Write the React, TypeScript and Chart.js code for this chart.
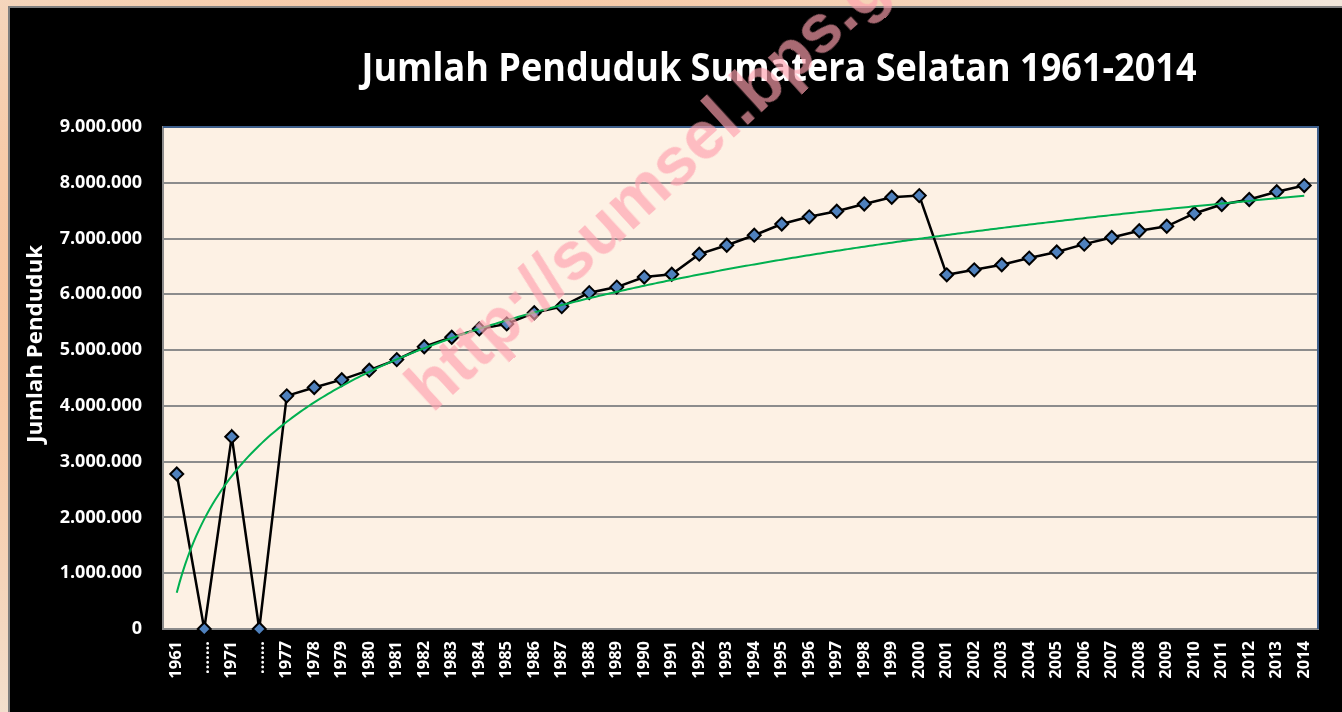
import React, { useEffect, useRef } from "react";
import { Chart, registerables } from "chart.js";

Chart.register(...registerables);

// ---- data ----
const categories: string[] = [
  "1961", "…….", "1971", "…….",
  "1977", "1978", "1979", "1980", "1981", "1982", "1983", "1984", "1985", "1986",
  "1987", "1988", "1989", "1990", "1991", "1992", "1993", "1994", "1995", "1996",
  "1997", "1998", "1999", "2000", "2001", "2002", "2003", "2004", "2005", "2006",
  "2007", "2008", "2009", "2010", "2011", "2012", "2013", "2014",
];

const population: number[] = [
  2780000, 0, 3448000, 0,
  4180000, 4330000, 4470000, 4640000, 4830000, 5060000, 5230000, 5380000, 5470000, 5670000,
  5780000, 6030000, 6130000, 6310000, 6360000, 6720000, 6880000, 7060000, 7260000, 7390000,
  7490000, 7620000, 7740000, 7770000, 6350000, 6440000, 6530000, 6650000, 6760000, 6900000,
  7020000, 7140000, 7220000, 7450000, 7610000, 7700000, 7840000, 7950000,
];

const yTickValues: number[] = [0, 1000000, 2000000, 3000000, 4000000, 5000000, 6000000, 7000000, 8000000, 9000000];

const titleText = "Jumlah Penduduk Sumatera Selatan 1961-2014";
const yTitleText = "Jumlah Penduduk";
const watermarkText = "http://sumsel.bps.go.id";

// Excel-style logarithmic trendline: least squares of y on ln(x)
function logTrend(values: number[]) {
  const n = values.length;
  const lx = values.map((_, i) => Math.log(i + 1));
  const mx = lx.reduce((s, v) => s + v, 0) / n;
  const my = values.reduce((s, v) => s + v, 0) / n;
  let sxy = 0, sxx = 0;
  for (let i = 0; i < n; i++) {
    sxy += (lx[i] - mx) * (values[i] - my);
    sxx += (lx[i] - mx) * (lx[i] - mx);
  }
  const a = sxy / sxx;
  const b = my - a * mx;
  return { a, b };
}

function fmtDots(v: number) {
  return String(Math.round(v)).replace(/\B(?=(\d{3})+(?!\d))/g, ".");
}

function drawFitted(ctx: CanvasRenderingContext2D, text: string, font: string, targetW: number) {
  ctx.font = font;
  const w = ctx.measureText(text).width;
  const s = targetW / w;
  ctx.scale(s, 1);
  ctx.textAlign = "center";
  ctx.textBaseline = "alphabetic";
  ctx.fillText(text, 0, 0);
}

export default function App() {
  const canvasRef = useRef<HTMLCanvasElement | null>(null);

  useEffect(() => {
    document.body.style.margin = "0";
    const canvas = canvasRef.current;
    if (!canvas) return;

    const { a, b } = logTrend(population);
    const trendPts: { x: number; y: number }[] = [];
    for (let t = 1; t <= categories.length + 1e-9; t += 0.1) {
      trendPts.push({ x: t, y: a * Math.log(t) + b });
    }

    const decor = {
      id: "decor",
      beforeDraw(chart: any) {
        const { ctx, chartArea } = chart;
        ctx.save();
        ctx.fillStyle = "#FDF1E4";
        ctx.fillRect(chartArea.left, chartArea.top, chartArea.right - chartArea.left, chartArea.bottom - chartArea.top);
        ctx.restore();
      },
      beforeDatasetsDraw(chart: any) {
        const { ctx, chartArea } = chart;
        ctx.save();
        ctx.strokeStyle = "#3E5F8C";
        ctx.lineWidth = 2;
        ctx.beginPath();
        ctx.moveTo(chartArea.left, chartArea.top);
        ctx.lineTo(chartArea.right, chartArea.top);
        ctx.lineTo(chartArea.right, chartArea.bottom);
        ctx.stroke();
        ctx.restore();
      },
      afterDraw(chart: any) {
        const { ctx } = chart;
        ctx.save();
        ctx.fillStyle = "#FFFFFF";
        ctx.translate(779, 81);
        drawFitted(ctx, titleText, "bold 39px 'Open Sans'", 835);
        ctx.restore();

        ctx.save();
        ctx.fillStyle = "#FFFFFF";
        ctx.translate(42, 344);
        ctx.rotate(-Math.PI / 2);
        drawFitted(ctx, yTitleText, "bold 22px 'Open Sans'", 198);
        ctx.restore();
      },
    };

    const chart = new Chart(canvas, {
      type: "line",
      data: {
        datasets: [
          {
            label: "Trend",
            data: trendPts,
            borderColor: "#00B050",
            borderWidth: 2,
            pointRadius: 0,
            tension: 0,
            order: 0,
          } as any,
          {
            label: "Jumlah Penduduk",
            data: population.map((v, i) => ({ x: i + 1, y: v })),
            borderColor: "#000000",
            borderWidth: 2.5,
            pointStyle: "rectRot",
            pointRadius: 6.5,
            pointBackgroundColor: "#4F81BD",
            pointBorderColor: "#000000",
            pointBorderWidth: 2,
            tension: 0,
            clip: false,
            order: 1,
          } as any,
        ],
      },
      options: {
        animation: false,
        responsive: false,
        layout: { padding: { top: 127, right: 24, left: 0, bottom: 0 } },
        plugins: {
          legend: { display: false },
          tooltip: { enabled: false },
          title: { display: false },
        },
        scales: {
          x: {
            type: "linear",
            min: 0.5,
            max: categories.length + 0.5,
            afterBuildTicks(scale: any) {
              scale.ticks = categories.map((_, i) => ({ value: i + 1 }));
            },
            afterFit(scale: any) {
              scale.height = 83;
            },
            grid: { display: false, drawTicks: false },
            border: { display: true, color: "#8C8C8C", width: 2 },
            ticks: {
              autoSkip: false,
              maxRotation: 90,
              minRotation: 90,
              padding: 12,
              color: "#FFFFFF",
              font: { family: "'Open Sans'", weight: "bold", size: 16.5 },
              callback: (v: any) => categories[Math.round(Number(v)) - 1] ?? "",
            },
          },
          y: {
            type: "linear",
            min: 0,
            max: 9000000,
            afterBuildTicks(scale: any) {
              scale.ticks = yTickValues.map((v) => ({ value: v }));
            },
            afterFit(scale: any) {
              scale.width = 163;
            },
            grid: { color: "#8C8C8C", lineWidth: 2, drawTicks: false },
            border: { display: true, color: "#8C8C8C", width: 2 },
            ticks: {
              padding: 21,
              color: "#FFFFFF",
              font: { family: "'Open Sans'", weight: "bold", size: 18 },
              callback: (v: any) => fmtDots(Number(v)),
            },
          },
        },
      } as any,
      plugins: [decor],
    });

    return () => chart.destroy();
  }, []);

  const wmSize = 68;
  const wmAscent = wmSize * 0.8465;

  return (
    <div
      style={{
        position: "fixed",
        left: 0,
        top: 0,
        width: 1342,
        height: 712,
        overflow: "hidden",
        background:
          "radial-gradient(ellipse 1000px 560px at 480px 300px, #F7BC8C 0%, #F8C6A0 45%, #F1E6DA 100%)",
      }}
    >
      <div
        style={{
          position: "absolute",
          left: 8,
          top: 6,
          width: 1350,
          height: 720,
          background: "#000000",
          border: "2px solid #7F7F7F",
          boxSizing: "border-box",
        }}
      />
      <canvas
        ref={canvasRef}
        width={1342}
        height={712}
        style={{ position: "absolute", left: 0, top: 0, width: 1342, height: 712 }}
      />
      <div
        style={{
          position: "absolute",
          left: 432,
          top: 414 - wmAscent,
          whiteSpace: "nowrap",
          fontFamily: "'Liberation Sans', Arial, sans-serif",
          fontWeight: "bold",
          fontSize: wmSize,
          lineHeight: 1,
          color: "rgba(255,161,175,0.66)",
          transformOrigin: `0px ${wmAscent}px`,
          transform: "rotate(-42.5deg)",
          pointerEvents: "none",
        }}
      >
        {watermarkText}
      </div>
    </div>
  );
}
